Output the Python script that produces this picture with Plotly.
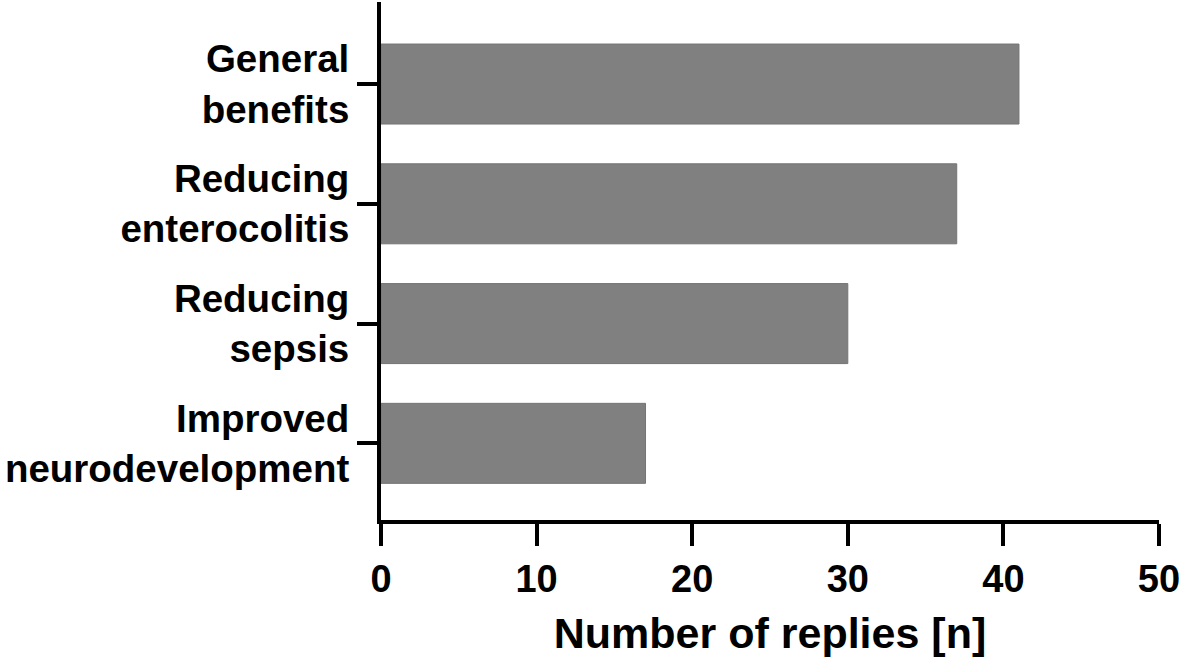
import plotly.graph_objects as go

categories = ["General<br>benefits", "Reducing<br>enterocolitis", "Reducing<br>sepsis", "Improved<br>neurodevelopment"]
replies = [41, 37, 30, 17]
x_ticks = [0, 10, 20, 30, 40, 50]

FONT = "Liberation Sans, Arial, sans-serif"

fig = go.Figure(go.Bar(
    x=replies, y=categories, orientation="h", width=0.668,
    marker=dict(color="#808080", line=dict(color="#747474", width=1)),
))

fig.update_layout(
    width=1181, height=664,
    margin=dict(l=381, r=22, t=2, b=144),
    plot_bgcolor="white", paper_bgcolor="white",
    showlegend=False,
    font=dict(family=FONT, color="black"),
)
fig.update_xaxes(
    range=[0, 50], tickvals=x_ticks, ticktext=[str(v) for v in x_ticks],
    showline=True, linecolor="black", linewidth=4,
    ticks="outside", ticklen=22, tickwidth=4, tickcolor="black",
    showgrid=False, zeroline=False,
    tickfont=dict(family=FONT, size=38, color="black", weight="bold"),
    title=dict(text="<b>Number of replies [n]</b>", font=dict(family=FONT, size=43, color="black"), standoff=20),
)
fig.update_yaxes(
    type="category", range=[3.64, -0.685],
    showline=True, linecolor="black", linewidth=4,
    ticks="outside", ticklen=20, tickwidth=4, tickcolor="black",
    showgrid=False, zeroline=False,
    tickfont=dict(family=FONT, size=38.5, color="black", weight="bold"),
)

fig.write_html(
    "out.html",
    config={"displayModeBar": False},
    post_script="document.body.style.margin='0';document.body.style.overflow='hidden';",
)
